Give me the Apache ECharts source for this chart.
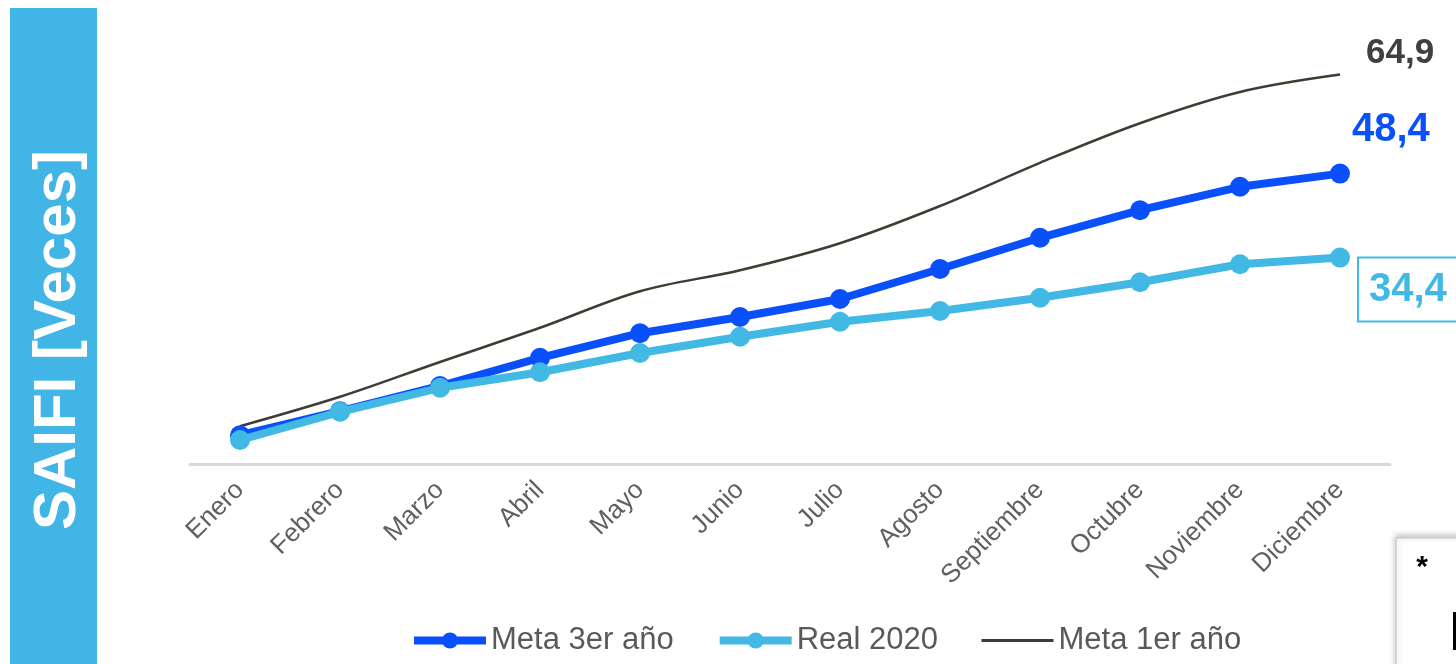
<!DOCTYPE html>
<html>
<head>
<meta charset="utf-8">
<script src="https://cdn.jsdelivr.net/npm/echarts@6/dist/echarts.min.js"></script>
<style>
html,body{margin:0;padding:0;background:#fff;}
#chart{width:1456px;height:664px;}
</style>
</head>
<body>
<div id="chart"></div>
<script>
const months = ['Enero','Febrero','Marzo','Abril','Mayo','Junio','Julio','Agosto','Septiembre','Octubre','Noviembre','Diciembre'];
const meta3 = [4.8, 8.8, 13.0, 17.7, 21.8, 24.5, 27.5, 32.5, 37.7, 42.3, 46.2, 48.4];
const real2020 = [4.0, 8.7, 12.7, 15.3, 18.5, 21.2, 23.7, 25.5, 27.7, 30.3, 33.3, 34.4];
const meta1 = [6.3, 11.2, 17.0, 22.7, 28.8, 32.3, 36.8, 43.0, 50.2, 56.8, 62.0, 64.9];
const seriesNames = ['Meta 3er año', 'Real 2020', 'Meta 1er año'];
const yTitle = 'SAIFI [Veces]';

const cBlue = '#0a50fa', cLight = '#42b9e5', cDark = '#3d3d33';
const fmt = p => String(p.value).replace('.', ',');
const chart = echarts.init(document.getElementById('chart'));
chart.setOption({
  animation: false,
  textStyle: { fontFamily: 'Liberation Sans, Arial, sans-serif' },
  grid: { left: 190, right: 66, top: 44, bottom: 200 },
  legend: {
    left: 405, top: 620,
    itemWidth: 72, itemHeight: 20, itemGap: 42,
    textStyle: { fontSize: 31, color: '#595959' },
    data: [
      { name: seriesNames[0], lineStyle: { width: 8 } },
      { name: seriesNames[1], lineStyle: { width: 8 } },
      { name: seriesNames[2], lineStyle: { width: 3, color: cDark }, itemStyle: { color: 'rgba(0,0,0,0)', borderWidth: 0 } }
    ]
  },
  xAxis: {
    type: 'category', data: months, boundaryGap: true,
    axisLine: { lineStyle: { color: '#d9d9d9', width: 3 } },
    axisTick: { show: false },
    axisLabel: { rotate: 45, fontSize: 26, color: '#606060', margin: 22, interval: 0 }
  },
  yAxis: { type: 'value', min: 0, max: 70, show: false, splitLine: { show: false } },
  series: [
    {
      name: seriesNames[0], type: 'line', data: meta3,
      color: cBlue, symbol: 'circle', symbolSize: 20,
      lineStyle: { width: 8 }, z: 3,
      endLabel: { show: true, formatter: fmt, offset: [4, -44], fontSize: 40, fontWeight: 'bold', color: cBlue }
    },
    {
      name: seriesNames[1], type: 'line', data: real2020,
      color: cLight, symbol: 'circle', symbolSize: 20,
      lineStyle: { width: 8 }, z: 4,
      endLabel: { show: true, formatter: fmt, offset: [11, 32], fontSize: 40, fontWeight: 'bold', color: cLight,
        borderColor: cLight, borderWidth: 2, padding: [11, 10, 11, 10], backgroundColor: '#fff' }
    },
    {
      name: seriesNames[2], type: 'line', data: meta1, smooth: 0.35,
      color: cDark, symbol: 'none',
      lineStyle: { width: 2.5 }, z: 2,
      endLabel: { show: true, formatter: fmt, offset: [18, -21], fontSize: 35, fontWeight: 'bold', color: '#404040' }
    }
  ],
  graphic: [
    { type: 'rect', shape: { x: 10, y: 8, width: 87, height: 660 }, style: { fill: '#41b6e6' }, z: 0 },
    { type: 'text', x: 58, y: 340, rotation: Math.PI / 2,
      style: { text: yTitle, fill: '#fff', font: 'bold 60px "Liberation Sans", Arial, sans-serif', textAlign: 'center', textVerticalAlign: 'middle' } },
    { type: 'rect', shape: { x: 1396, y: 538, width: 80, height: 140 },
      style: { fill: '#fff', stroke: '#cfcfcf', lineWidth: 1.5, shadowBlur: 6, shadowColor: 'rgba(0,0,0,0.25)', shadowOffsetY: -2 }, z: 10 },
    { type: 'text', x: 1422, y: 568, z: 11,
      style: { text: '*', fill: '#000', font: 'bold 30px "Liberation Sans", Arial, sans-serif', textAlign: 'center', textVerticalAlign: 'middle' } },
    { type: 'rect', shape: { x: 1453, y: 612, width: 3, height: 38 }, style: { fill: '#000' }, z: 11 }
  ]
});
</script>
</body>
</html>
